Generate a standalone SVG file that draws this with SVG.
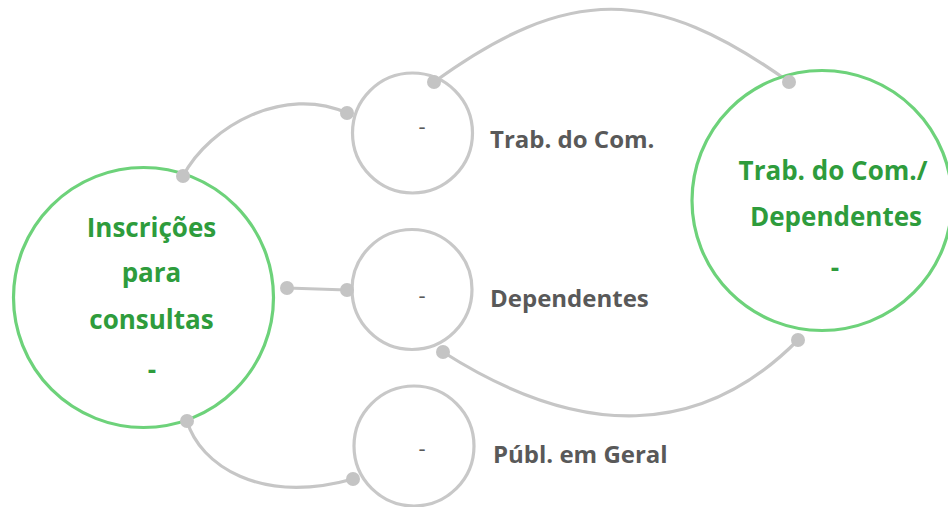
<svg xmlns="http://www.w3.org/2000/svg" width="948" height="507" viewBox="0 0 948 507">
<style>
.big{fill:#fff;stroke:#6dd27a;stroke-width:3.2}
.small{fill:#fff;stroke:#c8c8c8;stroke-width:3.2}
.con{fill:none;stroke:#c6c6c6;stroke-width:3.2}
.dot{fill:#c4c4c4}
.gt{font-family:"Open Sans","Liberation Sans",sans-serif;font-weight:bold;font-size:26px;fill:#2e9c3c;text-anchor:middle}
.lb{font-family:"Open Sans","Liberation Sans",sans-serif;font-weight:bold;font-size:24px;fill:#595959}
.dash{font-family:"Open Sans","Liberation Sans",sans-serif;font-size:22px;fill:#595959;text-anchor:middle}
</style>
<rect width="948" height="507" fill="#fff"/>
<g id="connectors">
<path class="con" d="M183,176 C210,125 285,85 347,113"/>
<path class="con" d="M287,288 L347,290"/>
<path class="con" d="M187,421 C200,465 260,505 353,479"/>
<path class="con" d="M434,82 C568,-15 654,-15 789,82"/>
<path class="con" d="M443,352 C581,440 701,438 798,340"/>
</g>
<g id="node-inscricoes">
<circle class="big" cx="143.5" cy="297.5" r="130"/>
<text class="gt" x="151.5" y="237">Inscrições</text>
<text class="gt" x="151.5" y="282">para</text>
<text class="gt" x="151.5" y="329">consultas</text>
<text class="gt" x="152" y="379">-</text>
</g>
<g id="node-trab">
<circle class="small" cx="412.5" cy="133" r="60"/>
<text class="dash" x="422" y="134">-</text>
<text class="lb" x="490" y="148">Trab. do Com.</text>
</g>
<g id="node-dependentes">
<circle class="small" cx="412" cy="289.5" r="60"/>
<text class="dash" x="422" y="303">-</text>
<text class="lb" x="490" y="307">Dependentes</text>
</g>
<g id="node-publ">
<circle class="small" cx="414" cy="446" r="60"/>
<text class="dash" x="422" y="456">-</text>
<text class="lb" x="493" y="463">Públ. em Geral</text>
</g>
<g id="node-trab-dep">
<circle class="big" cx="822" cy="200.5" r="130"/>
<text class="gt" x="833" y="180">Trab. do Com./</text>
<text class="gt" x="836" y="226">Dependentes</text>
<text class="gt" x="835" y="277">-</text>
</g>
<g id="dots">
<circle class="dot" cx="183" cy="176" r="7"/>
<circle class="dot" cx="347" cy="113" r="7"/>
<circle class="dot" cx="287" cy="288" r="7"/>
<circle class="dot" cx="347" cy="290" r="7"/>
<circle class="dot" cx="187" cy="421" r="7"/>
<circle class="dot" cx="353" cy="479" r="7"/>
<circle class="dot" cx="434" cy="82" r="7"/>
<circle class="dot" cx="789" cy="82" r="7"/>
<circle class="dot" cx="443" cy="352" r="7"/>
<circle class="dot" cx="798" cy="340" r="7"/>
</g>
</svg>
